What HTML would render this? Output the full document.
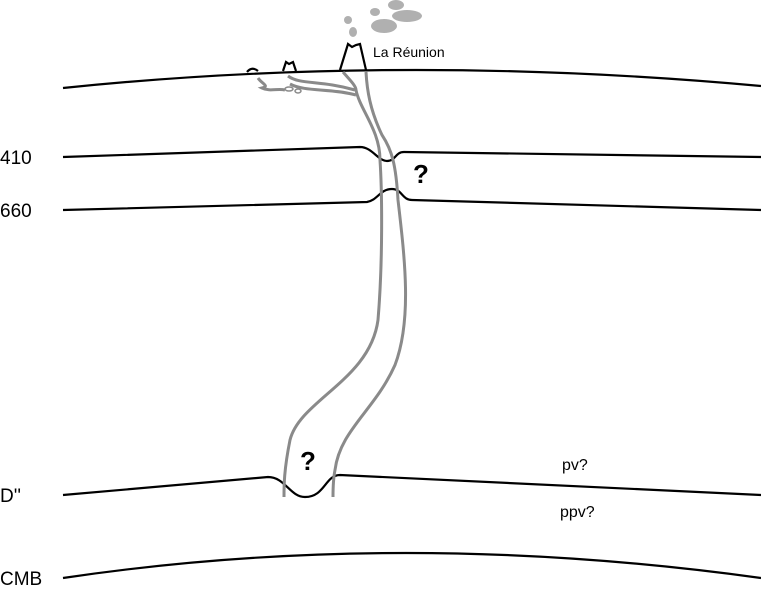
<!DOCTYPE html>
<html><head><style>body{margin:0;background:#fff}svg{display:block}</style></head><body>
<svg width="761" height="593" viewBox="0 0 761 593" xmlns="http://www.w3.org/2000/svg" font-family="Liberation Sans, sans-serif">
<g fill="#b0b0b0">
<ellipse cx="396" cy="5" rx="8" ry="5"/>
<ellipse cx="375" cy="12" rx="5" ry="4"/>
<ellipse cx="407" cy="16" rx="15" ry="6"/>
<ellipse cx="384" cy="26" rx="13" ry="7"/>
<ellipse cx="348" cy="20" rx="4" ry="4"/>
<ellipse cx="353" cy="32" rx="4" ry="5"/>
</g>
<g fill="none" stroke="#000" stroke-width="2.2">
<path d="M63,88 Q400,53 761,86"/>
<path d="M63,157 L360,147 C372,147 378,161 387,161 C396,161 395,152 404,152 L761,157"/>
<path d="M63,210 L367,202 C378,200 380,189 392,189 C402,189 402,200 412,200 L761,210"/>
<path d="M63,495 L268,477 C285,477 290,497 305,497 C325,497 325,475 340,475 L761,495"/>
<path d="M63,578 Q400,528 761,578"/>
<path d="M340,70 L348,44 L352,47 L356,45 L360,44 L366,70"/>
<path d="M283,71 L286,62 L289,64 L293,62 L296,71"/>
<path d="M247,72 Q252,66 258,71"/>
</g>
<g fill="none" stroke="#8a8a8a" stroke-width="3">
<path d="M343,72 C350,80 356,86 356,90 C360,110 380,130 380,160 C382,190 383,260 378,320 C370,380 300,400 290,440 C284,470 284,485 284,497"/>
<path d="M366,72 C367,90 370,110 382,135 C392,150 396,165 398,200 C405,260 412,320 395,365 C375,410 340,430 335,470 C333,480 333,490 333,497"/>
<path d="M288,76 C300,85 320,80 355,90"/>
<path d="M290,84 C305,92 330,88 356,95"/>
<path d="M258,78 C262,84 270,86 262,88 C270,92 278,88 285,90"/>
</g>
<g fill="none" stroke="#8a8a8a" stroke-width="1.5">
<ellipse cx="289" cy="89" rx="4" ry="2"/>
<ellipse cx="298" cy="91" rx="3" ry="2"/>
</g>
<g font-size="19" fill="#000">
<text x="0" y="164">410</text>
<text x="0" y="217">660</text>
<text x="0" y="502">D''</text>
<text x="0" y="585">CMB</text>
</g>
<text x="373" y="57" font-size="14">La Réunion</text>
<g font-size="26" font-weight="bold"><text x="413" y="183">?</text><text x="300" y="470">?</text></g>
<text x="562" y="470" font-size="16">pv?</text>
<text x="560" y="517" font-size="16">ppv?</text>
</svg>
</body></html>
